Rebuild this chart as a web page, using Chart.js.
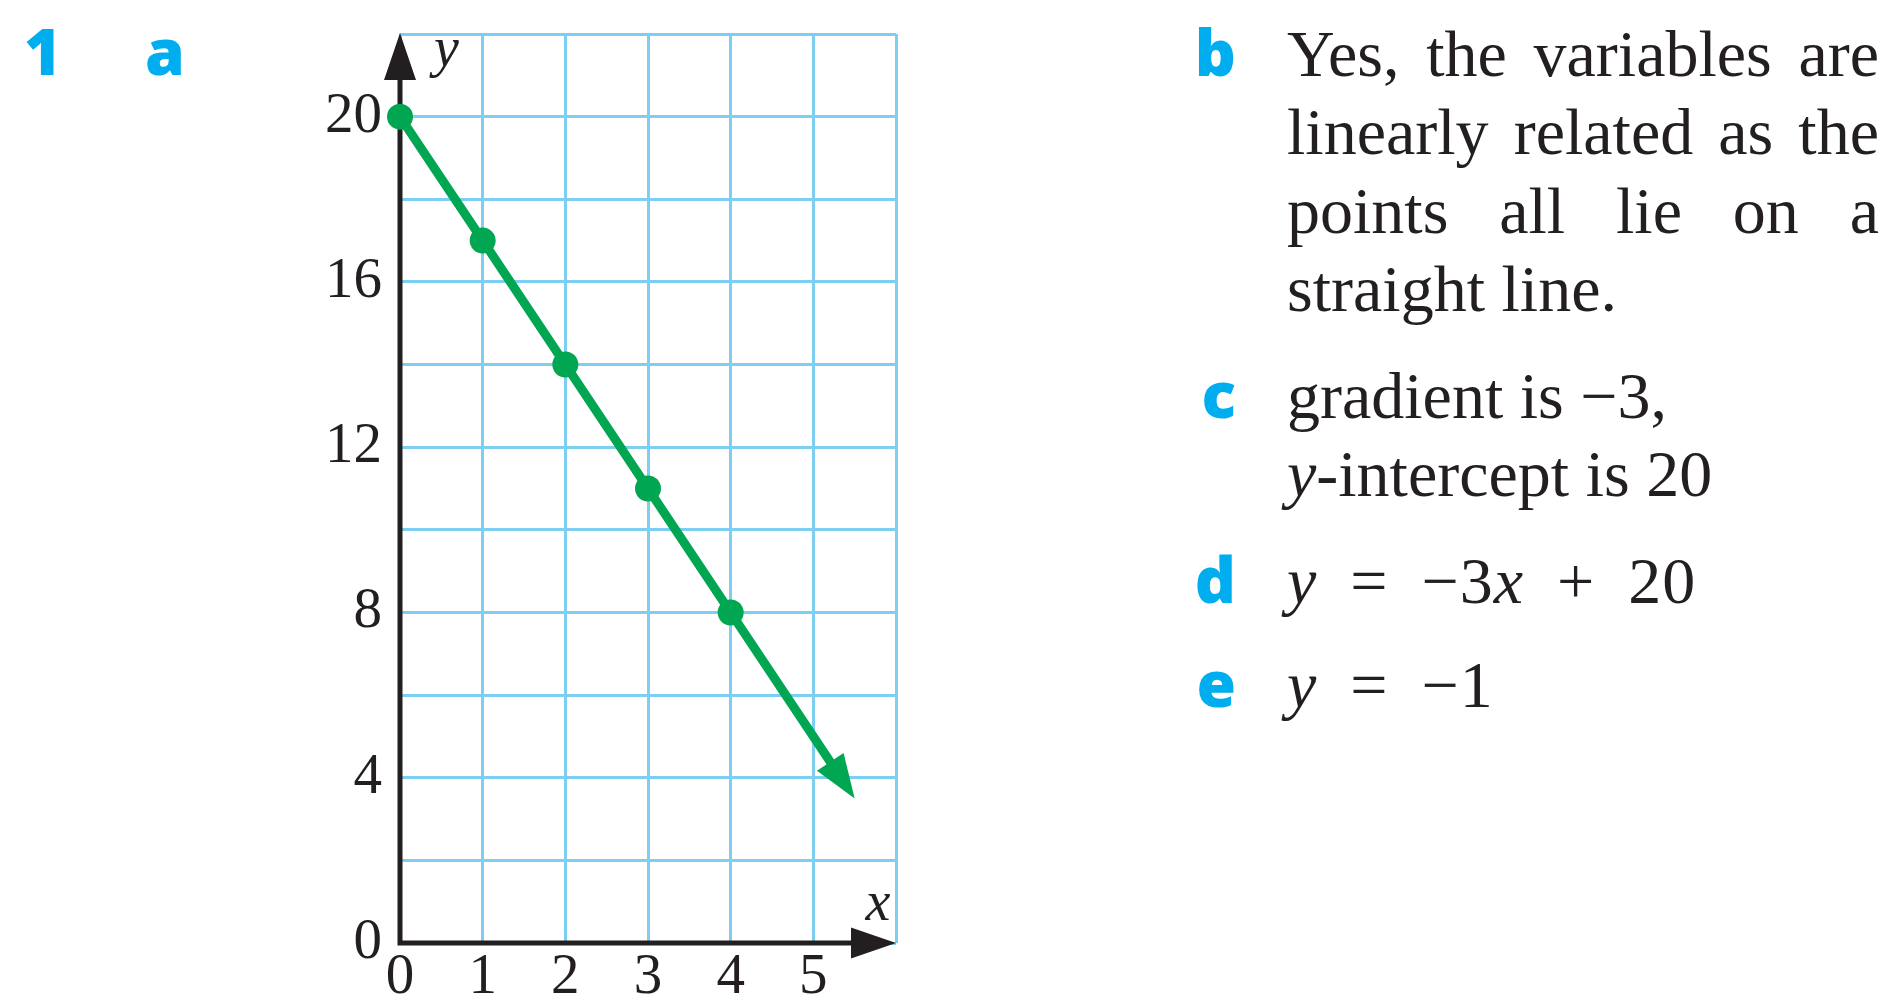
<!DOCTYPE html>
<html lang="en">
<head>
<meta charset="utf-8">
<title>Linear relation</title>
<script src="https://cdn.jsdelivr.net/npm/chart.js@4/dist/chart.umd.min.js"></script>
<style>
  html, body { margin:0; padding:0; background:#fff; }
  body { width:1885px; height:997px; overflow:hidden; position:relative;
         font-family:"Liberation Serif", serif; color:#231f20; }
  #plot { position:absolute; left:0; top:0; width:1000px; height:997px; }
  .qn { position:absolute; font-family:"Open Sans", sans-serif; font-weight:800;
        color:#00aeef; font-size:64px; line-height:64px; }
  .item { position:absolute; left:1176px; display:flex; align-items:baseline; }
  .lbl { width:60px; text-align:right; font-family:"Open Sans", sans-serif; font-weight:800;
         color:#00aeef; font-size:64px; line-height:64px; }
  .txt { margin-left:51px; width:592px; font-size:66px; line-height:78.5px; text-align:justify; }
  .math .op { margin:0 0.5em; }
  .math { letter-spacing:1px; }
</style>
</head>
<body>
<div class="qn" style="left:24px;top:19px">1</div>
<div class="qn" style="left:145px;top:19px">a</div>

<div id="plot"><canvas id="chart"></canvas></div>

<div class="item" style="top:14.5px">
  <span class="lbl">b</span>
  <div class="txt">Yes, the variables are linearly related as the points all lie on a straight line.</div>
</div>
<div class="item" style="top:356.5px">
  <span class="lbl">c</span>
  <div class="txt">gradient is &minus;3,<br><i>y</i>-intercept is 20</div>
</div>
<div class="item" style="top:541.5px">
  <span class="lbl">d</span>
  <div class="txt math"><i>y</i><span class="op">=</span>&minus;3<i>x</i><span class="op">+</span>20</div>
</div>
<div class="item" style="top:645.5px">
  <span class="lbl">e</span>
  <div class="txt math"><i>y</i><span class="op">=</span>&minus;1</div>
</div>

<script>
// plotted values
const xVals = [0, 1, 2, 3, 4];
const yVals = [20, 17, 14, 11, 8];
// where the line's arrow ends
const lineEnd = [5.5, 3.5];
const xTickLabels = [0, 1, 2, 3, 4, 5];
const yTickLabels = [0, 4, 8, 12, 16, 20];

const green = '#00a651';
const gridBlue = '#7ccff3';
const ink = '#231f20';

const pts = xVals.map((x, i) => ({x, y: yVals[i]}));
pts.push({x: lineEnd[0], y: lineEnd[1]});
const radii = pts.map((p, i) => i < xVals.length ? 13 : 0);

const ARROW_LEN = 44, ARROW_HALF = 16;

function arrowGeom(chart) {
  const d = chart.getDatasetMeta(0).data;
  const tip = d[d.length - 1], prev = d[d.length - 2];
  const dx = tip.x - prev.x, dy = tip.y - prev.y;
  const len = Math.hypot(dx, dy);
  const ux = dx / len, uy = dy / len;
  return {tip, ux, uy, nx: -uy, ny: ux};
}

const arrows = {
  id: 'arrows',
  beforeDatasetsDraw(chart) {
    const {ctx, chartArea: a, scales: {x, y}} = chart;
    const x0 = x.getPixelForValue(0), y0 = y.getPixelForValue(0);
    ctx.save();
    ctx.strokeStyle = ink;
    ctx.fillStyle = ink;
    ctx.lineWidth = 5;
    ctx.beginPath();
    ctx.moveTo(x0, y0 + 2.5);
    ctx.lineTo(x0, a.top + 40);
    ctx.moveTo(x0 - 2.5, y0);
    ctx.lineTo(a.right - 40, y0);
    ctx.stroke();
    ctx.beginPath();
    ctx.moveTo(x0, a.top - 1);
    ctx.lineTo(x0 - 16, a.top + 46);
    ctx.lineTo(x0 + 16, a.top + 46);
    ctx.closePath();
    ctx.moveTo(a.right, y0);
    ctx.lineTo(a.right - 45, y0 - 15.5);
    ctx.lineTo(a.right - 45, y0 + 15.5);
    ctx.closePath();
    ctx.fill();
    ctx.restore();
  },
  beforeDatasetDraw(chart) {
    // cut the line where the arrowhead starts
    const {ctx} = chart;
    const g = arrowGeom(chart);
    const bx = g.tip.x - g.ux * (ARROW_LEN - 3), by = g.tip.y - g.uy * (ARROW_LEN - 3);
    const B = 3000;
    ctx.save();
    ctx.beginPath();
    ctx.moveTo(bx + g.nx * B, by + g.ny * B);
    ctx.lineTo(bx + g.nx * B - g.ux * B, by + g.ny * B - g.uy * B);
    ctx.lineTo(bx - g.nx * B - g.ux * B, by - g.ny * B - g.uy * B);
    ctx.lineTo(bx - g.nx * B, by - g.ny * B);
    ctx.closePath();
    ctx.clip();
  },
  afterDatasetDraw(chart) {
    chart.ctx.restore();
  },
  afterDatasetsDraw(chart) {
    const {ctx, chartArea: a, scales: {x, y}} = chart;
    const g = arrowGeom(chart);
    const bx = g.tip.x - g.ux * ARROW_LEN, by = g.tip.y - g.uy * ARROW_LEN;
    ctx.save();
    ctx.fillStyle = green;
    ctx.beginPath();
    ctx.moveTo(g.tip.x, g.tip.y);
    ctx.lineTo(bx + g.nx * ARROW_HALF, by + g.ny * ARROW_HALF);
    ctx.lineTo(bx - g.nx * ARROW_HALF, by - g.ny * ARROW_HALF);
    ctx.closePath();
    ctx.fill();

    // axis names
    const x0 = x.getPixelForValue(0), y0 = y.getPixelForValue(0);
    ctx.fillStyle = ink;
    ctx.font = 'italic 56px "Liberation Serif"';
    ctx.textBaseline = 'alphabetic';
    ctx.textAlign = 'left';
    ctx.fillText('y', x0 + 34, a.top + 32);
    ctx.textAlign = 'center';
    ctx.fillText('x', a.right - 18, y0 - 23);
    ctx.restore();
  }
};

new Chart(document.getElementById('chart'), {
  type: 'scatter',
  data: {
    datasets: [{
      data: pts,
      showLine: true,
      borderColor: green,
      borderWidth: 9,
      backgroundColor: green,
      pointBackgroundColor: green,
      pointBorderWidth: 0,
      pointRadius: radii,
      clip: false
    }]
  },
  options: {
    responsive: true,
    maintainAspectRatio: false,
    animation: false,
    events: [],
    layout: {padding: {left: 0, top: 34, right: 104, bottom: 0}},
    plugins: {legend: {display: false}, tooltip: {enabled: false}},
    scales: {
      x: {
        type: 'linear', min: 0, max: 6,
        afterFit: s => { s.height = 54; },
        grid: {color: gridBlue, lineWidth: 3, drawTicks: false},
        border: {display: false},
        ticks: {
          stepSize: 1, autoSkip: false, maxRotation: 0, padding: 7,
          color: ink, font: {family: '"Liberation Serif"', size: 57, lineHeight: 1},
          callback: v => xTickLabels.includes(v) ? String(v) : ''
        }
      },
      y: {
        type: 'linear', min: 0, max: 22,
        afterFit: s => { s.width = 400; },
        grid: {color: gridBlue, lineWidth: 3, drawTicks: false},
        border: {display: false},
        ticks: {
          stepSize: 2, autoSkip: false, padding: 18,
          color: ink, font: {family: '"Liberation Serif"', size: 57, lineHeight: 0.5},
          callback: v => yTickLabels.includes(v) ? String(v) : ''
        }
      }
    }
  },
  plugins: [arrows]
});
</script>
</body>
</html>
